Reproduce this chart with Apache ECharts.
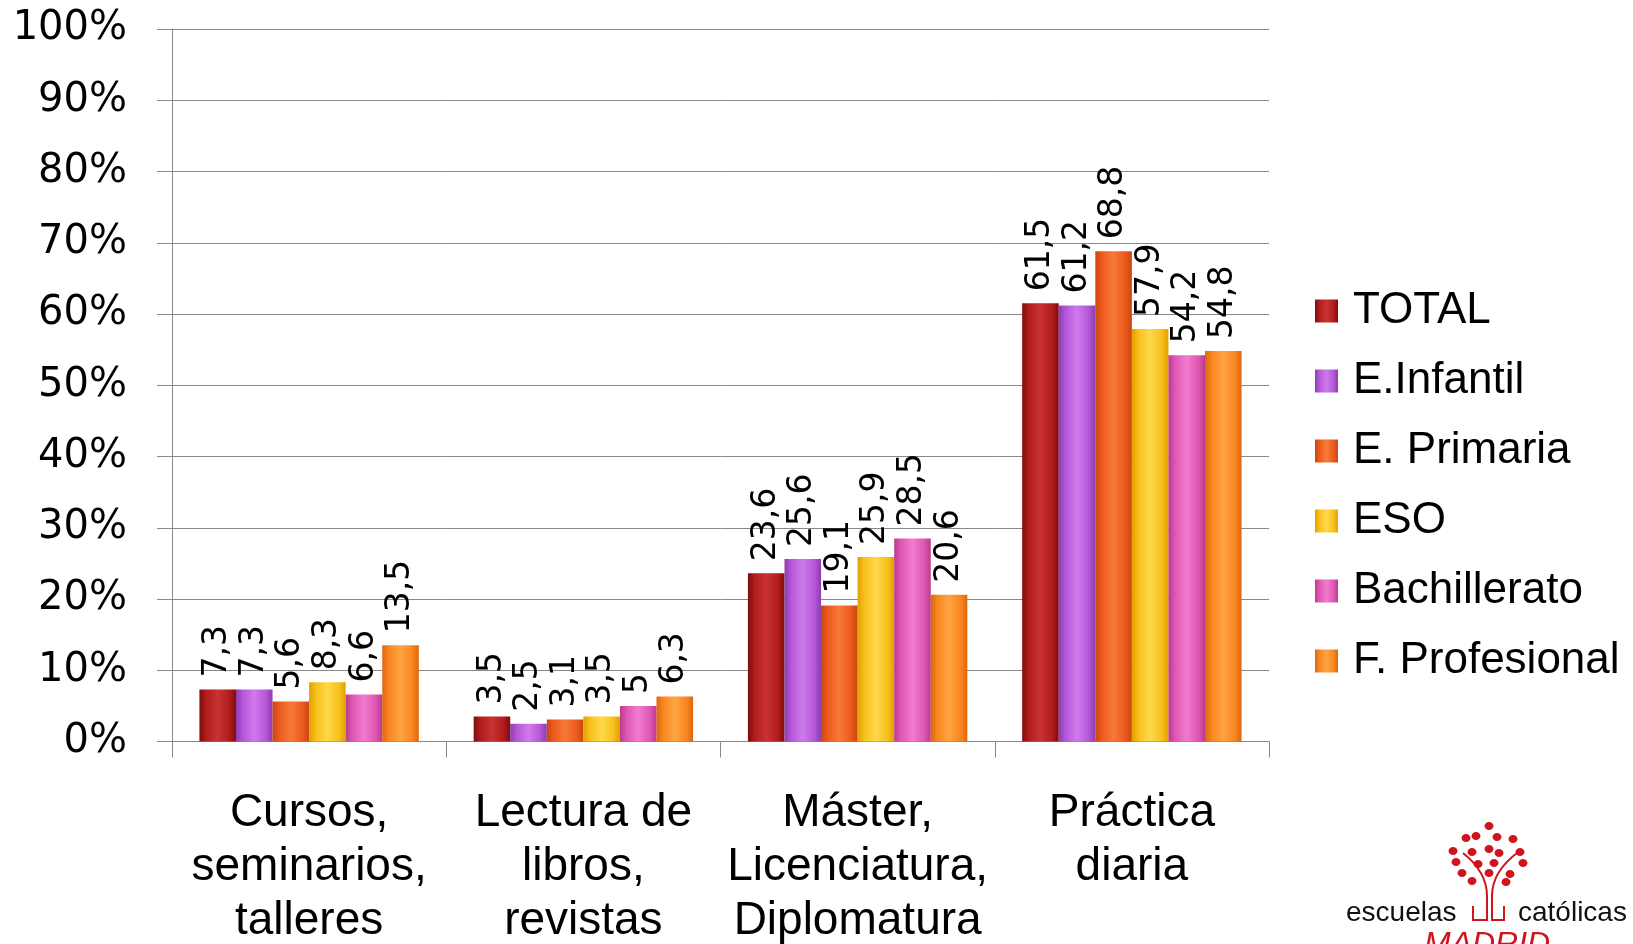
<!DOCTYPE html>
<html><head><meta charset="utf-8">
<script src="https://cdn.jsdelivr.net/npm/echarts@6/dist/echarts.min.js"></script>
<style>html,body{margin:0;padding:0;background:#fff;}#c{width:1633px;height:944px;}</style>
</head><body><div id="c"></div>
<script>
const categories = ['Cursos,\nseminarios,\ntalleres', 'Lectura de\nlibros,\nrevistas', 'Máster,\nLicenciatura,\nDiplomatura', 'Práctica\ndiaria'];
const seriesNames = ['TOTAL', 'E.Infantil', 'E. Primaria', 'ESO', 'Bachillerato', 'F. Profesional'];
const total = [7.3, 3.5, 23.6, 61.5];
const infantil = [7.3, 2.5, 25.6, 61.2];
const primaria = [5.6, 3.1, 19.1, 68.8];
const eso = [8.3, 3.5, 25.9, 57.9];
const bachillerato = [6.6, 5, 28.5, 54.2];
const fprofesional = [13.5, 6.3, 20.6, 54.8];
const yTicks = [0, 10, 20, 30, 40, 50, 60, 70, 80, 90, 100];

const seriesData = [total, infantil, primaria, eso, bachillerato, fprofesional];
const palette = [
  ['#7e0c0c', '#b01c1c', '#c83232'],
  ['#8c3cae', '#b556d8', '#cf7aec'],
  ['#c94510', '#ec5a1c', '#f67a3a'],
  ['#e0a000', '#f8c01c', '#ffd84a'],
  ['#b83c8a', '#e056b4', '#f07ccc'],
  ['#dc660e', '#f8861e', '#ffa444']
];
function grad(p) {
  return new echarts.graphic.LinearGradient(0, 0, 1, 0, [
    {offset: 0, color: p[0]}, {offset: 0.18, color: p[1]},
    {offset: 0.5, color: p[2]}, {offset: 0.82, color: p[1]}, {offset: 1, color: p[0]}
  ]);
}
const chart = echarts.init(document.getElementById('c'));
const series = seriesNames.map((n, i) => ({
  name: n, type: 'bar', data: seriesData[i],
  barGap: '0%', barCategoryGap: '20%',
  itemStyle: {color: grad(palette[i])},
  label: {
    show: true, position: 'top', rotate: 90, align: 'left', verticalAlign: 'middle',
    distance: 12, color: '#000', fontFamily: 'DejaVu Sans', fontSize: 33,
    formatter: p => String(p.value).replace('.', ',')
  }
}));
// logo (decoration)
const RED = '#d0141e';
const dots = [[1489,826],[1466,838],[1476,836],[1497,837],[1513,839],[1453,851],[1472,852],[1489,849],[1499,853],[1520,852],[1456,862],[1478,864],[1494,863],[1523,863],[1462,873],[1489,873],[1510,874],[1472,881],[1506,882]];
const logo = dots.map(d => ({type: 'ellipse', shape: {cx: d[0], cy: d[1], rx: 4.5, ry: 4}, style: {fill: RED}}));
logo.push({type: 'bezierCurve', shape: {x1: 1463, y1: 853, cpx1: 1487, cpy1: 872, x2: 1487, y2: 896}, style: {stroke: RED, fill: null, lineWidth: 2}});
logo.push({type: 'bezierCurve', shape: {x1: 1517, y1: 853, cpx1: 1492, cpy1: 872, x2: 1492, y2: 896}, style: {stroke: RED, fill: null, lineWidth: 2}});
logo.push({type: 'polyline', shape: {points: [[1487,895],[1487,920],[1473,920],[1473,906]]}, style: {stroke: RED, fill: null, lineWidth: 2}});
logo.push({type: 'polyline', shape: {points: [[1492,895],[1492,920],[1504,920],[1504,906]]}, style: {stroke: RED, fill: null, lineWidth: 2}});
logo.push({type: 'text', left: 1346, top: 899, style: {text: 'escuelas', font: '28px "Liberation Sans"', fill: '#111'}});
logo.push({type: 'text', left: 1518, top: 899, style: {text: 'católicas', font: '28px "Liberation Sans"', fill: '#111'}});
logo.push({type: 'text', left: 1424, top: 929, style: {text: 'MADRID', font: 'italic 32px "Liberation Sans"', fill: RED}});

chart.setOption({
  backgroundColor: '#fff',
  animation: false,
  grid: {left: 172, right: 364, top: 29, bottom: 202.5, containLabel: false, outerBoundsMode: 'none'},
  legend: {
    orient: 'vertical', left: 1310, top: 283, itemWidth: 23, itemHeight: 23, itemGap: 24,
    icon: 'rect',
    textStyle: {fontFamily: 'Liberation Sans', fontSize: 44, lineHeight: 46, color: '#000', padding: [0, 0, 0, 10]},
    data: seriesNames
  },
  xAxis: {
    type: 'category', data: categories,
    axisLine: {lineStyle: {color: '#888', width: 1}},
    axisTick: {show: true, length: 16, lineStyle: {color: '#888'}},
    axisLabel: {interval: 0, margin: 45, color: '#000', fontFamily: 'Liberation Sans', fontSize: 46, lineHeight: 54}
  },
  yAxis: {
    type: 'value', min: 0, max: 100, interval: 10,
    axisLine: {show: true, lineStyle: {color: '#888'}},
    axisTick: {show: true, length: 15, lineStyle: {color: '#888'}},
    splitLine: {lineStyle: {color: '#888', width: 1}},
    axisLabel: {margin: 45, color: '#000', fontFamily: 'DejaVu Sans', fontSize: 40,
      formatter: v => yTicks.indexOf(v) >= 0 ? v + '%' : ''}
  },
  graphic: logo,
  series: series
});
</script></body></html>
